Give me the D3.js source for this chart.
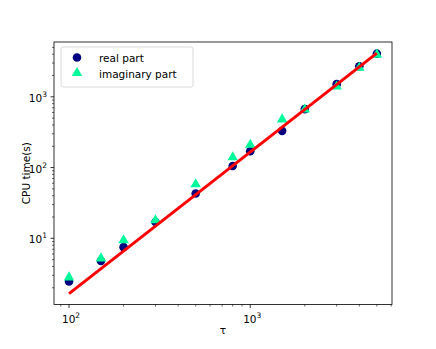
<!DOCTYPE html>
<html>
<head>
<meta charset="utf-8">
<script src="https://cdn.jsdelivr.net/npm/d3@7"></script>
<style>
  body { margin: 0; background: #fff; }
  text { font-family: "DejaVu Sans", sans-serif; }
</style>
</head>
<body>
<script>
var tau = [100, 150, 200, 300, 500, 800, 1000, 1500, 2000, 3000, 4000, 5000];
var realPart = [2.45, 4.8, 7.5, 17, 43, 105, 170, 330, 670, 1510, 2700, 4070];
var imagPart = [2.8, 5.2, 9.4, 18, 58, 140, 210, 480, 660, 1400, 2570, 3950];
// fitted line end points
var fitTau = [100, 5000];
var fitTime = [1.65, 4150];
var xTickVals = [100, 1000];
var yTickVals = [10, 100, 1000];

var W = 436, H = 349;
var mLeft = 54, mRight = 392, mTop = 42, mBottom = 304.5;

var svg = d3.select('body').append('svg')
  .attr('width', W).attr('height', H);

var x = d3.scaleLog().domain([82.6, 6060]).range([mLeft, mRight]);
var y = d3.scaleLog().domain([1.16, 5950]).range([mBottom, mTop]);

// minor ticks
function minors(lo, hi) {
  var out = [];
  for (var e = 0; e < 5; e++) {
    for (var m = 2; m < 10; m++) {
      var v = m * Math.pow(10, e);
      if (v >= lo && v <= hi) out.push(v);
    }
  }
  return out;
}
var g = svg.append('g');
g.selectAll('line.xminor').data(minors(x.domain()[0], x.domain()[1])).enter().append('line')
  .attr('x1', function(d) { return x(d); }).attr('x2', function(d) { return x(d); })
  .attr('y1', mBottom).attr('y2', mBottom + 2)
  .attr('stroke', '#000').attr('stroke-width', 0.6);
g.selectAll('line.yminor').data(minors(y.domain()[0], y.domain()[1])).enter().append('line')
  .attr('y1', function(d) { return y(d); }).attr('y2', function(d) { return y(d); })
  .attr('x1', mLeft).attr('x2', mLeft - 2)
  .attr('stroke', '#000').attr('stroke-width', 0.6);

// major ticks
g.selectAll('line.xmajor').data(xTickVals).enter().append('line')
  .attr('x1', function(d) { return x(d); }).attr('x2', function(d) { return x(d); })
  .attr('y1', mBottom).attr('y2', mBottom + 3.5)
  .attr('stroke', '#000').attr('stroke-width', 0.8);
g.selectAll('line.ymajor').data(yTickVals).enter().append('line')
  .attr('y1', function(d) { return y(d); }).attr('y2', function(d) { return y(d); })
  .attr('x1', mLeft).attr('x2', mLeft - 3.5)
  .attr('stroke', '#000').attr('stroke-width', 0.8);

function expLabel(sel, d) {
  var e = Math.round(Math.log10(d));
  sel.append('tspan').text('10');
  sel.append('tspan').attr('dy', -5).attr('font-size', 7.5).text(e);
}
g.selectAll('text.xl').data(xTickVals).enter().append('text')
  .attr('x', function(d) { return x(d) + 2; }).attr('y', 322.5)
  .attr('text-anchor', 'middle').attr('font-size', 10.5)
  .each(function(d) { expLabel(d3.select(this), d); });
g.selectAll('text.yl').data(yTickVals).enter().append('text')
  .attr('x', mLeft - 7).attr('y', function(d) { return y(d) + 5; })
  .attr('text-anchor', 'end').attr('font-size', 10.5)
  .each(function(d) { expLabel(d3.select(this), d); });

// data: circles
svg.selectAll('circle.real').data(tau).enter().append('circle')
  .attr('class', 'real')
  .attr('cx', function(d) { return x(d); })
  .attr('cy', function(d, i) { return y(realPart[i]); })
  .attr('r', 4.3).attr('fill', '#000080');

var tri = d3.symbol().type(d3.symbolTriangle).size(48);
svg.selectAll('path.imag').data(tau).enter().append('path')
  .attr('class', 'imag')
  .attr('d', tri)
  .attr('transform', function(d, i) { return 'translate(' + x(d) + ',' + y(imagPart[i]) + ')'; })
  .attr('fill', '#00fa9a');

// fit line
var line = d3.line()
  .x(function(d) { return x(d); })
  .y(function(d, i) { return y(fitTime[i]); });
svg.append('path').datum(fitTau).attr('d', line)
  .attr('fill', 'none').attr('stroke', '#ff0000').attr('stroke-width', 3);

// frame
svg.append('rect').attr('x', mLeft).attr('y', mTop)
  .attr('width', mRight - mLeft).attr('height', mBottom - mTop)
  .attr('fill', 'none').attr('stroke', '#000').attr('stroke-width', 0.8);

// axis labels
svg.append('text').attr('x', (mLeft + mRight) / 2).attr('y', 334)
  .attr('text-anchor', 'middle').attr('font-size', 10.5).text('τ');
svg.append('text')
  .attr('transform', 'translate(' + 30 + ',' + ((mTop + mBottom) / 2) + ') rotate(-90)')
  .attr('text-anchor', 'middle').attr('font-size', 10.5).text('CPU time(s)');

// legend
var lg = svg.append('g');
lg.append('rect').attr('x', 61).attr('y', 47).attr('width', 132).attr('height', 40)
  .attr('rx', 2).attr('fill', '#fff').attr('fill-opacity', 0.8)
  .attr('stroke', '#d0d0d0').attr('stroke-width', 0.8);
lg.append('circle').attr('cx', 77).attr('cy', 57.5).attr('r', 4.3).attr('fill', '#000080');
lg.append('path').attr('d', tri).attr('transform', 'translate(77,73)').attr('fill', '#00fa9a');
lg.append('text').attr('x', 99).attr('y', 61.5).attr('font-size', 10.5).text('real part');
lg.append('text').attr('x', 99).attr('y', 77.5).attr('font-size', 10.5).text('imaginary part');
</script>
</body>
</html>
